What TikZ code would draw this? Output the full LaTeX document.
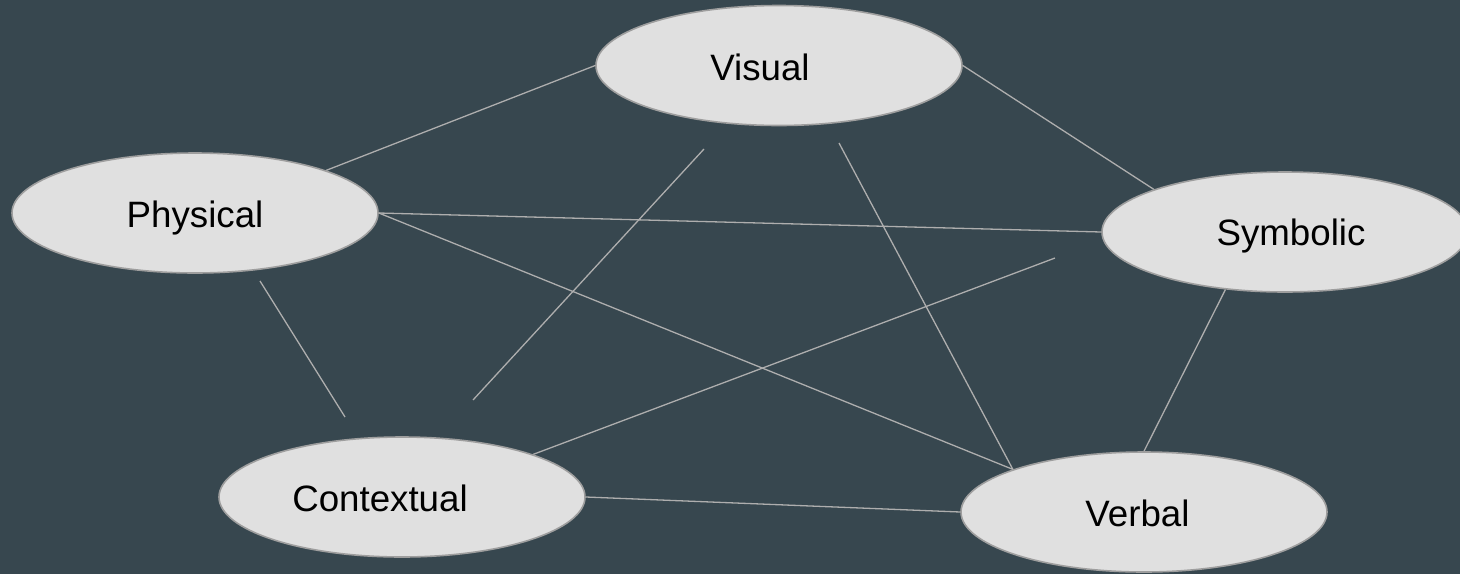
\documentclass[tikz,border=0pt]{standalone}
\usepackage{fontspec}
\setmainfont{Liberation Sans}
\usetikzlibrary{shapes.geometric}
\definecolor{bgcol}{HTML}{37474F}
\definecolor{fillcol}{HTML}{E0E0E0}
\definecolor{bordercol}{HTML}{9E9E9E}
\definecolor{linecol}{HTML}{AEAEAE}
\pgfdeclarelayer{bglayer}
\pgfdeclarelayer{edgelayer}
\pgfsetlayers{bglayer,edgelayer,main}
\tikzset{
  bubble/.style={ellipse, draw=bordercol, fill=fillcol, line width=1.6pt,
    minimum width=366pt, minimum height=120pt, inner sep=0pt},
  lbl/.style={inner sep=0pt, text height=0pt, text depth=0pt, text=black,
    font=\fontsize{36.7}{44}\selectfont},
  conn/.style={draw=linecol, line width=1.3pt}
}
\begin{document}
\begin{tikzpicture}[x=1pt,y=-1pt]
\begin{pgfonlayer}{bglayer}
\fill[bgcol] (0,0) rectangle (1460,574);
\end{pgfonlayer}
\useasboundingbox (0,0) rectangle (1460,574);

\node[bubble, label={[lbl, xshift=-19pt, yshift=-14.5pt]center:Visual}] (visual) at (779,65.5) {};
\node[bubble, label={[lbl, xshift=0pt, yshift=-14.3pt]center:Physical}] (physical) at (195,213) {};
\node[bubble, label={[lbl, xshift=6pt, yshift=-13pt]center:Symbolic}] (symbolic) at (1285,232) {};
\node[bubble, label={[lbl, xshift=-22pt, yshift=-14.7pt]center:Contextual}] (contextual) at (402,497) {};
\node[bubble, label={[lbl, xshift=-6.5pt, yshift=-14.7pt]center:Verbal}] (verbal) at (1144,512) {};

\coordinate (visA) at (704,149);
\coordinate (visB) at (839,143);
\coordinate (phyA) at (260,281);
\coordinate (conA) at (345,417);
\coordinate (conB) at (473,400);
\coordinate (symA) at (1055,258);

\begin{pgfonlayer}{edgelayer}
\draw[conn] (visual.180.5) -- (physical.18.4);
\draw[conn] (visual.-0.5) -- (symbolic.162);
\draw[conn] (physical.0) -- (symbolic.180);
\draw[conn] (physical.-0.5) -- (verbal.162.2);
\draw[conn] (visB) -- (verbal.162.2);
\draw[conn] (phyA) -- (conA);
\draw[conn] (visA) -- (conB);
\draw[conn] (contextual.18.6) -- (symA);
\draw[conn] (contextual.0) -- (verbal.180);
\draw[conn] (symbolic.224.5) -- (verbal.90);
\end{pgfonlayer}
\end{tikzpicture}
\end{document}
